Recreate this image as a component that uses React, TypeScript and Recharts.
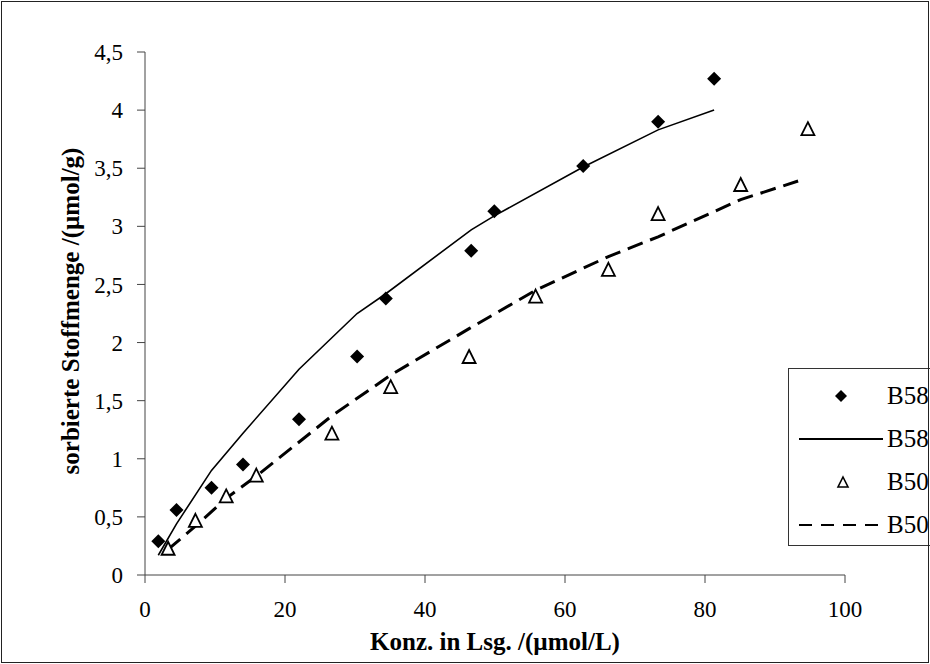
import React from 'react'
import { ScatterChart, Scatter, XAxis, YAxis, Label } from 'recharts'

// B58 Messwerte
const b58X = [1.9, 4.5, 9.5, 14.0, 22.0, 30.3, 34.4, 46.6, 49.9, 62.6, 73.3, 81.3]
const b58Y = [0.29, 0.56, 0.75, 0.95, 1.34, 1.88, 2.38, 2.79, 3.13, 3.52, 3.90, 4.27]
// B58 Modell (durchgezogen)
const b58FitX = [1.9, 4.5, 9.5, 14.0, 22.0, 30.3, 34.4, 46.6, 49.9, 62.6, 73.3, 81.3]
const b58FitY = [0.17, 0.44, 0.9, 1.22, 1.77, 2.25, 2.42, 2.97, 3.09, 3.51, 3.83, 4.0]

// B50 Messwerte
const b50X = [3.3, 7.2, 11.6, 15.9, 26.7, 35.1, 46.3, 55.8, 66.2, 73.3, 85.1, 94.7]
const b50Y = [0.23, 0.47, 0.68, 0.86, 1.22, 1.62, 1.88, 2.4, 2.63, 3.11, 3.36, 3.84]
// B50 Modell (gestrichelt)
const b50FitX = [3.3, 7.2, 11.6, 15.9, 26.7, 35.1, 46.3, 55.8, 66.2, 73.3, 85.1, 93.3]
const b50FitY = [0.22, 0.42, 0.66, 0.85, 1.37, 1.72, 2.12, 2.45, 2.74, 2.91, 3.23, 3.39]

const xTicks = [0, 20, 40, 60, 80, 100]
const yTicks = [0, 0.5, 1, 1.5, 2, 2.5, 3, 3.5, 4, 4.5]

const legendLabels = ['B58', 'B58', 'B50', 'B50']

const zip = (xs: number[], ys: number[]) => xs.map((x, i) => ({ x, y: ys[i] }))

const serif = '"Liberation Serif", "Times New Roman", serif'

const Diamond = (props: any) => {
  const { cx, cy } = props
  const r = 7
  return <polygon points={`${cx},${cy - r} ${cx + r},${cy} ${cx},${cy + r} ${cx - r},${cy}`} fill="#000" />
}

const Triangle = (props: any) => {
  const { cx, cy } = props
  const w = 6.5
  const h = 6.5
  return (
    <polygon
      points={`${cx},${cy - h} ${cx + w},${cy + h} ${cx - w},${cy + h}`}
      fill="#fff"
      stroke="#000"
      strokeWidth={1.8}
    />
  )
}

const NoDot = () => <g />

const fmt = (v: number) => String(v).replace('.', ',')

function LegendBox() {
  const row = { height: 43, display: 'flex', alignItems: 'center' } as const
  const text = { fontFamily: serif, fontSize: 25, marginLeft: 4, lineHeight: '25px' }
  return (
    <div
      style={{
        position: 'absolute',
        left: 788,
        top: 368,
        width: 200,
        height: 178,
        border: '1px solid #333',
        background: '#fff',
        boxSizing: 'border-box',
        paddingTop: 5,
      }}
    >
      <div style={row}>
        <svg width={94} height={20}>
          <polygon points="52,4 58,10 52,16 46,10" fill="#000" />
        </svg>
        <span style={text}>{legendLabels[0]}</span>
      </div>
      <div style={row}>
        <svg width={94} height={20}>
          <line x1={10} y1={10} x2={94} y2={10} stroke="#000" strokeWidth={2} />
        </svg>
        <span style={text}>{legendLabels[1]}</span>
      </div>
      <div style={row}>
        <svg width={94} height={20}>
          <polygon points="54,5 59,15 49,15" fill="#fff" stroke="#000" strokeWidth={1.6} />
        </svg>
        <span style={text}>{legendLabels[2]}</span>
      </div>
      <div style={row}>
        <svg width={94} height={20}>
          <line x1={10} y1={10} x2={94} y2={10} stroke="#000" strokeWidth={2} strokeDasharray="13 9" />
        </svg>
        <span style={text}>{legendLabels[3]}</span>
      </div>
    </div>
  )
}

export default function App() {
  return (
    <div
      style={{
        position: 'absolute',
        left: 0,
        top: 0,
        width: 930,
        height: 664,
        overflow: 'hidden',
        background: '#fff',
      }}
    >
      <ScatterChart width={930} height={664} margin={{ top: 52, right: 85, bottom: 0, left: 0 }}>
        <XAxis
          type="number"
          dataKey="x"
          domain={[0, 100]}
          ticks={xTicks}
          height={89}
          stroke="#444"
          tickSize={8}
          tickMargin={18}
          tick={{ fill: '#000', fontFamily: serif, fontSize: 23 }}
        >
          <Label
            value="Konz. in Lsg. /(µmol/L)"
            position="insideBottom"
            offset={14}
            style={{ fontFamily: serif, fontSize: 25, fontWeight: 'bold', fill: '#000' }}
          />
        </XAxis>
        <YAxis
          type="number"
          dataKey="y"
          domain={[0, 4.5]}
          ticks={yTicks}
          width={145}
          stroke="#444"
          tickSize={8}
          tickMargin={14}
          tickFormatter={fmt}
          tick={{ fill: '#000', fontFamily: serif, fontSize: 23 }}
        >
          <Label
            content={() => (
              <text
                x={70}
                y={311}
                transform="rotate(-90 70 311)"
                textAnchor="middle"
                dominantBaseline="central"
                style={{ fontFamily: serif, fontSize: 25, fontWeight: 'bold', fill: '#000' }}
              >
                sorbierte Stoffmenge /(µmol/g)
              </text>
            )}
          />
        </YAxis>
        <Scatter
          data={zip(b58FitX, b58FitY)}
          line={{ stroke: '#000', strokeWidth: 1.6 }}
          shape={NoDot}
          isAnimationActive={false}
        />
        <Scatter
          data={zip(b50FitX, b50FitY)}
          line={{ stroke: '#000', strokeWidth: 3, strokeDasharray: '16 8' }}
          shape={NoDot}
          isAnimationActive={false}
        />
        <Scatter data={zip(b58X, b58Y)} shape={Diamond} isAnimationActive={false} />
        <Scatter data={zip(b50X, b50Y)} shape={Triangle} isAnimationActive={false} />
      </ScatterChart>
      <LegendBox />
      <div
        style={{
          position: 'absolute',
          left: 1,
          top: 1,
          width: 928,
          height: 662,
          border: '1px solid #222',
          boxSizing: 'border-box',
          pointerEvents: 'none',
        }}
      />
    </div>
  )
}
